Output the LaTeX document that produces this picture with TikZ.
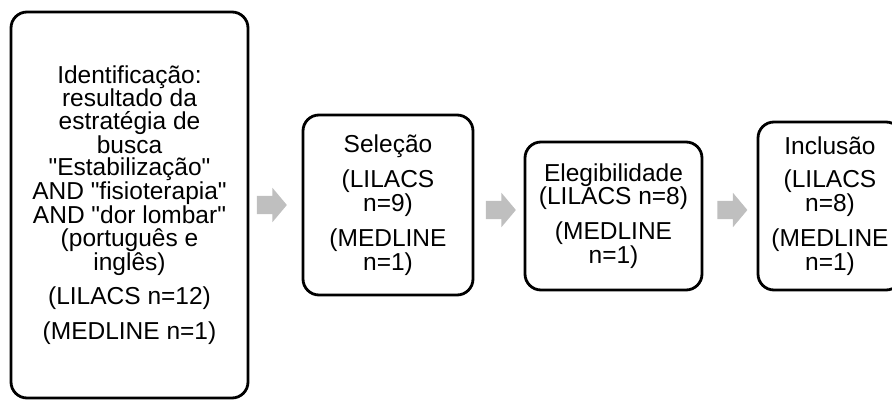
\documentclass[tikz,border=0pt]{standalone}
\usepackage{fontspec}
\setmainfont{Liberation Sans}[Ligatures=TeXOff]
\usetikzlibrary{positioning,shapes.arrows}

\begin{document}
\begin{tikzpicture}[x=1pt,y=-1pt,
		etapa/.style={draw, line width=2.8pt, rounded corners=16pt, inner sep=0pt, align=center,
			font=\fontsize{24.5}{22.5}\selectfont},
		seta/.style={single arrow, fill=black!25, draw=none, inner xsep=0pt, inner ysep=9pt,
			minimum height=30pt, single arrow head extend=8pt, single arrow tip angle=100}]
		\useasboundingbox (0,0) rectangle (892,401);
		\clip (0,0) rectangle (892,401);
		\node[etapa, minimum width=237pt, minimum height=386pt] (ident) at (129.5,205)
			{Identificação:\\resultado da\\estratégia de\\busca\\"Estabilização"\\AND "fisioterapia"\\AND "dor lombar"\\(português e\\inglês)\\[11pt](LILACS n=12)\\[11pt](MEDLINE n=1)};
		\node[etapa, minimum width=170pt, minimum height=180pt] (selecao) at (388,205)
			{Seleção\\[11pt](LILACS\\n=9)\\[11pt](MEDLINE\\n=1)};
		\node[etapa, minimum width=177pt, minimum height=148pt] (elegib) at (613.5,216)
			{Elegibilidade\\(LILACS n=8)\\[11pt](MEDLINE\\n=1)};
		\node[etapa, minimum width=144pt, minimum height=168pt] (inclusao) at (830,206)
			{Inclusão\\[11pt](LILACS\\n=8)\\[11pt](MEDLINE\\n=1)};
		\node[seta] (s1) at (268,205) {};
		\node[seta] (s2) at (497,210) {};
		\node[seta] (s3) at (728.5,210) {};
	\end{tikzpicture}
\end{document}
